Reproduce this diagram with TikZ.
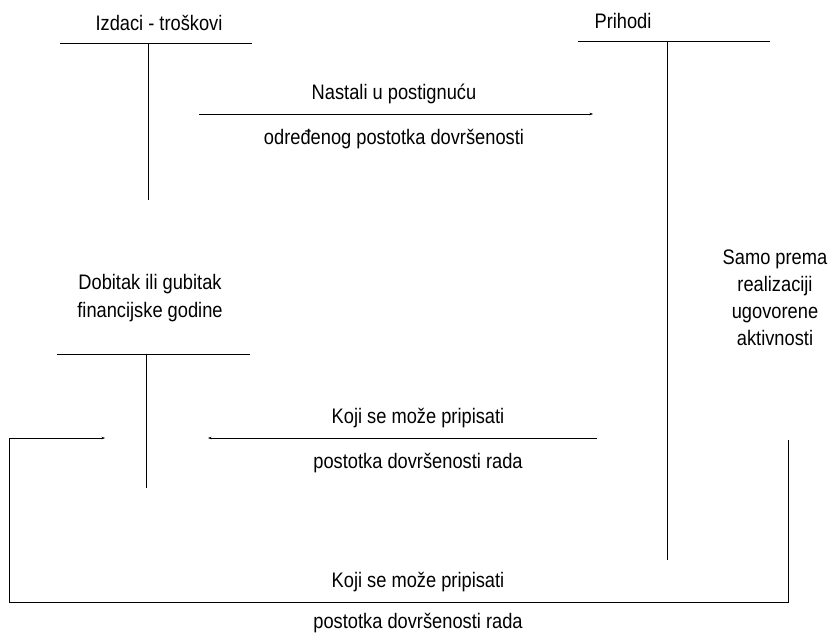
\documentclass[tikz,border=0pt]{standalone}
\usepackage{fontspec}
\setmainfont[FakeStretch=0.87]{Liberation Sans}
\usetikzlibrary{arrows.meta}
\begin{document}
\begin{tikzpicture}[x=1pt,y=-1pt,
  lbl/.style={font=\fontsize{21}{28}\selectfont, inner sep=0pt, align=center},
  rule/.style={line width=0.9pt, black},
  flow/.style={line width=0.9pt, black, -{Stealth[length=3.5pt,width=2.6pt]}}]
\useasboundingbox (0,0) rectangle (832,636);

% account headings
\node[lbl] (izdaci) at (159,23) {Izdaci - troškovi};
\node[lbl] (prihodi) at (623,21) {Prihodi};
\node[lbl] (dobitak) at (150,298) {Dobitak ili gubitak\\financijske godine};

% T-accounts
\coordinate (iL) at (60,43);  \coordinate (iR) at (252,43);
\coordinate (iT) at (148,43); \coordinate (iB) at (148,200);
\draw[rule] (iL) -- (iR) (iT) -- (iB);

\coordinate (pL) at (578,41); \coordinate (pR) at (770,41);
\coordinate (pT) at (667,41); \coordinate (pB) at (667,560);
\draw[rule] (pL) -- (pR) (pT) -- (pB);

\coordinate (dL) at (57,354); \coordinate (dR) at (250,354);
\coordinate (dT) at (146,354); \coordinate (dB) at (146,488);
\draw[rule] (dL) -- (dR) (dT) -- (dB);

% expenses incurred
\coordinate (a1s) at (199,114); \coordinate (a1e) at (593,114);
\draw[flow] (a1s) -- (a1e);
\node[lbl] (a1top) at (394,94) {Nastali u postignuću};
\node[lbl] (a1bot) at (394,139) {određenog postotka dovršenosti};

% revenue attributable
\coordinate (a2s) at (597,438); \coordinate (a2e) at (208,438);
\draw[flow] (a2s) -- (a2e);
\node[lbl] (a2top) at (418,418) {Koji se može pripisati};
\node[lbl] (a2bot) at (418,463) {postotka dovršenosti rada};

% note on revenue recognition
\node[lbl, text depth=0pt] (samo) at (775,298) {Samo prema\\[-1pt]realizaciji\\[-1pt]ugovorene\\[-1pt]aktivnosti};

% loop back to profit account
\coordinate (l1) at (788,440); \coordinate (l2) at (788,602);
\coordinate (l3) at (9,602);   \coordinate (l4) at (9,438);
\coordinate (l5) at (105,438);
\draw[flow] (l1) -- (l2) -- (l3) -- (l4) -- (l5);
\node[lbl] (a3top) at (418,582) {Koji se može pripisati};
\node[lbl] (a3bot) at (418,623) {postotka dovršenosti rada};
\end{tikzpicture}
\end{document}
